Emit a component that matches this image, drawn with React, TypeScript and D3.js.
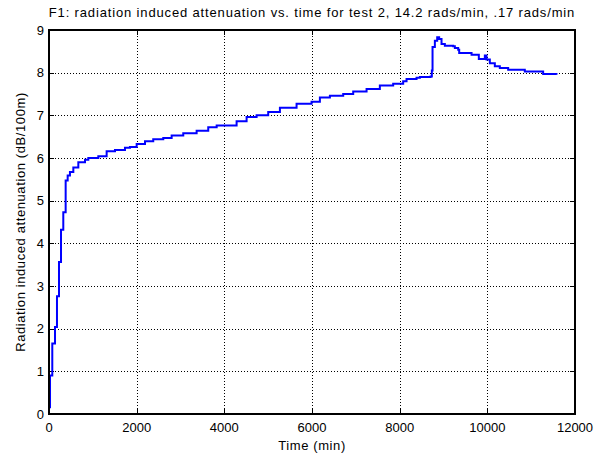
import React from "react";
import * as d3 from "d3";

const times = [0, 23, 75, 137, 182, 228, 274, 326, 380, 426, 478, 555, 669, 821, 897, 1125, 1315, 1505, 1733, 1847, 2000, 2190, 2378, 2607, 2798, 3063, 3368, 3633, 3825, 4013, 4280, 4508, 4736, 5001, 5268, 5648, 5990, 6180, 6408, 6712, 6940, 7245, 7548, 7852, 8080, 8157, 8385, 8461, 8704, 8734, 8750, 8803, 8856, 8901, 8955, 9031, 9221, 9259, 9335, 9358, 9602, 9640, 9734, 9806, 9906, 9943, 9981, 10057, 10171, 10285, 10475, 10855, 11273, 11578];
const attenuation = [0.16, 0.9, 1.65, 2.04, 2.76, 3.56, 4.32, 4.73, 5.47, 5.59, 5.67, 5.78, 5.9, 5.96, 6.0, 6.04, 6.16, 6.19, 6.24, 6.26, 6.33, 6.39, 6.44, 6.47, 6.53, 6.58, 6.64, 6.72, 6.76, 6.76, 6.86, 6.96, 7.0, 7.08, 7.18, 7.27, 7.32, 7.42, 7.46, 7.5, 7.56, 7.62, 7.7, 7.74, 7.8, 7.85, 7.88, 7.9, 7.91, 8.05, 8.6, 8.75, 8.83, 8.79, 8.67, 8.63, 8.62, 8.58, 8.54, 8.46, 8.46, 8.42, 8.42, 8.32, 8.32, 8.4, 8.31, 8.22, 8.15, 8.11, 8.07, 8.03, 7.97, 7.95];
const xTicks = [0, 2000, 4000, 6000, 8000, 10000, 12000];
const yTicks = [0, 1, 2, 3, 4, 5, 6, 7, 8, 9];

const W = 596, H = 456;
const L = 49, R = 575, T = 30, B = 414;

export default function App() {
  const x = d3.scaleLinear().domain([0, 12000]).range([L, R]);
  const y = d3.scaleLinear().domain([0, 9]).range([B, T]);
  const data = times.map((t, i) => [t, attenuation[i]] as [number, number]);
  const line = d3.line<[number, number]>().x(d => x(d[0])).y(d => y(d[1])).curve(d3.curveStepAfter);
  const font = "Arial, 'Liberation Sans', Helvetica, sans-serif";
  const px = (v: number) => Math.round(v) + 0.5;
  return (
    <svg width={W} height={H} style={{ position: "absolute", left: 0, top: 0, background: "#fff" }} fontFamily={font}>
      <rect x={0} y={0} width={W} height={H} fill="#fff" />
      <g shapeRendering="crispEdges">
        {xTicks.slice(1, -1).map(t => (
          <line key={"gx" + t} x1={px(x(t))} x2={px(x(t))} y1={T} y2={B} stroke="#000" strokeWidth={1} strokeDasharray="1,2" />
        ))}
        {yTicks.slice(1, -1).map(v => (
          <line key={"gy" + v} x1={L} x2={R} y1={px(y(v))} y2={px(y(v))} stroke="#000" strokeWidth={1} strokeDasharray="1,2" />
        ))}
        {xTicks.map(t => (
          <g key={"tx" + t}>
            <line x1={px(x(t))} x2={px(x(t))} y1={B} y2={B - 5} stroke="#000" strokeWidth={1} />
            <line x1={px(x(t))} x2={px(x(t))} y1={T} y2={T + 5} stroke="#000" strokeWidth={1} />
          </g>
        ))}
        {yTicks.map(v => (
          <g key={"ty" + v}>
            <line x1={L} x2={L + 5} y1={px(y(v))} y2={px(y(v))} stroke="#000" strokeWidth={1} />
            <line x1={R} x2={R - 5} y1={px(y(v))} y2={px(y(v))} stroke="#000" strokeWidth={1} />
          </g>
        ))}
      </g>
      {xTicks.map(t => (
        <text key={"lx" + t} x={x(t)} y={432} fontSize={13} textAnchor="middle" fill="#000">{t}</text>
      ))}
      {yTicks.map(v => (
        <text key={"ly" + v} x={L - 5} y={y(v) + 4.5} fontSize={13} textAnchor="end" fill="#000">{v}</text>
      ))}
      <path d={line(data) || ""} fill="none" stroke="#0000ff" strokeWidth={2} />
      <rect x={L} y={T} width={R - L} height={B - T} fill="none" stroke="#000" strokeWidth={2} shapeRendering="crispEdges" />
      <text x={(L + R) / 2} y={17} fontSize={13} letterSpacing={0.85} textAnchor="middle" fill="#000">
        F1: radiation induced attenuation vs. time for test 2, 14.2 rads/min, .17 rads/min
      </text>
      <text x={(L + R) / 2} y={450} fontSize={13} letterSpacing={0.6} textAnchor="middle" fill="#000">Time (min)</text>
      <text transform={`translate(25,${(T + B) / 2}) rotate(-90)`} fontSize={13} letterSpacing={0.6} textAnchor="middle" fill="#000">
        Radiation induced attenuation (dB/100m)
      </text>
    </svg>
  );
}
